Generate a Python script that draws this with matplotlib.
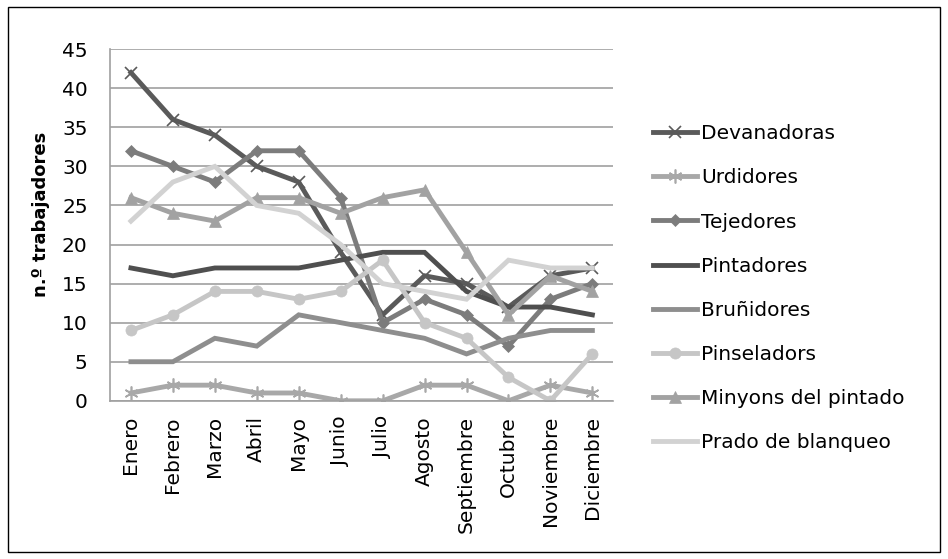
import matplotlib.pyplot as plt
from matplotlib.patches import Rectangle

meses = ["Enero", "Febrero", "Marzo", "Abril", "Mayo", "Junio", "Julio",
         "Agosto", "Septiembre", "Octubre", "Noviembre", "Diciembre"]

devanadoras = [42, 36, 34, 30, 28, 19, 11, 16, 15, 12, 16, 17]
urdidores = [1, 2, 2, 1, 1, 0, 0, 2, 2, 0, 2, 1]
tejedores = [32, 30, 28, 32, 32, 26, 10, 13, 11, 7, 13, 15]
pintadores = [17, 16, 17, 17, 17, 18, 19, 19, 14, 12, 12, 11]
brunidores = [5, 5, 8, 7, 11, 10, 9, 8, 6, 8, 9, 9]
pinseladors = [9, 11, 14, 14, 13, 14, 18, 10, 8, 3, 0, 6]
minyons = [26, 24, 23, 26, 26, 24, 26, 27, 19, 11, 16, 14]
prado = [23, 28, 30, 25, 24, 20, 15, 14, 13, 18, 17, 17]

series = [
    ("Devanadoras", devanadoras, "#5a5a5a", "x", 9),
    ("Urdidores", urdidores, "#a8a8a8", (6, 2, 0), 10),
    ("Tejedores", tejedores, "#7c7c7c", "D", 6),
    ("Pintadores", pintadores, "#4f4f4f", None, 0),
    ("Bruñidores", brunidores, "#8e8e8e", None, 0),
    ("Pinseladors", pinseladors, "#c6c6c6", "o", 8),
    ("Minyons del pintado", minyons, "#a2a2a2", "^", 8),
    ("Prado de blanqueo", prado, "#d2d2d2", None, 0),
]

fig = plt.figure(figsize=(9.48, 5.59), dpi=100)
ax = fig.add_axes([0.116, 0.283, 0.531, 0.629])

x = list(range(len(meses)))
for nombre, valores, color, marcador, tam in series:
    ax.plot(x, valores, color=color, lw=3.5, marker=marcador, markersize=tam,
            markeredgewidth=1.2 if marcador in ("x", (6, 2, 0)) else 0.5,
            markeredgecolor=color, label=nombre, solid_joinstyle="miter")

ax.set_xlim(-0.5, len(meses) - 0.5)
ax.set_ylim(0, 45)
ax.set_yticks(range(0, 46, 5))
ax.set_xticks(x)
ax.set_xticklabels(meses, rotation=90, fontsize=14.5)
ax.tick_params(axis="y", labelsize=14.5, length=0, pad=16)
ax.tick_params(axis="x", length=0, pad=11)
ax.yaxis.grid(True, color="#a0a0a0", lw=1.2)
ax.set_axisbelow(True)
for lado in ("top", "right"):
    ax.spines[lado].set_visible(False)
for lado in ("left", "bottom"):
    ax.spines[lado].set_color("#a0a0a0")
    ax.spines[lado].set_linewidth(1.2)

ax.set_ylabel("n.º trabajadores", fontsize=13, fontweight="bold")
ax.yaxis.set_label_coords(-0.12, 0.53)

ax.legend(loc="center left", bbox_to_anchor=(1.063, 0.32), frameon=False,
          fontsize=14.5, handlelength=2.2, labelspacing=1.25, handletextpad=0.2,
          borderaxespad=0)

fig.patches.append(Rectangle((0.008, 0.013), 0.984, 0.975, transform=fig.transFigure,
                             fill=False, edgecolor="black", lw=1))

fig.savefig("out.png", dpi=100)
